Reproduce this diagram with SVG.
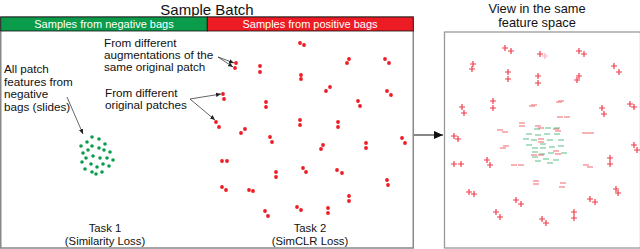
<svg xmlns="http://www.w3.org/2000/svg" xmlns:xlink="http://www.w3.org/1999/xlink" width="640" height="249" viewBox="0 0 640 249">
<style>
text{font-family:"Liberation Sans",Arial,sans-serif;fill:#111}
.hd{fill:#fff;font-size:11px;text-anchor:middle}
.lb{font-size:11.7px}
.tk{font-size:11.3px}
.c{text-anchor:middle}
.rd{fill:#ed1c24}
.gd{fill:#0a9c4b}
.pl{stroke:#ee1c2a;stroke-width:1.2;fill:none;opacity:0.85}
.mr{stroke:#ee3a42;stroke-width:1.3;fill:none;opacity:0.6}
.mg{stroke:#1aa557;stroke-width:1.3;fill:none;opacity:0.55}
.ln{stroke:#222;stroke-width:0.7;fill:none}
</style>
<defs>
<path id="p" d="M-3,0H3M0,-3V3"/>
<path id="m" d="M-3,0H3"/>
<marker id="ah" markerWidth="6" markerHeight="6" refX="5" refY="3" orient="auto" markerUnits="userSpaceOnUse"><path d="M0,0.8L5,3L0,5.2Z" fill="#222"/></marker>
<marker id="ab" markerWidth="10" markerHeight="10" refX="9" refY="5" orient="auto" markerUnits="userSpaceOnUse"><path d="M0,1L9,5L0,9Z" fill="#111"/></marker>
</defs>

<g id="title-batch"><text x="207" y="15" class="c" style="font-size:15px">Sample Batch</text></g>

<g id="batch-box">
<rect x="0.75" y="17" width="412.5" height="231" fill="#fff" stroke="#888" stroke-width="1.5"/>
<rect x="0.75" y="17" width="206.5" height="14" fill="#0a9c4b" stroke="#111" stroke-width="0.8"/>
<rect x="207.25" y="17" width="206" height="14" fill="#ed1c24" stroke="#111" stroke-width="0.8"/>
<text x="104" y="28" class="hd">Samples from negative bags</text>
<text x="310" y="28" class="hd">Samples from positive bags</text>
</g>

<g id="label-augment"><text class="lb" x="104" y="47">From different</text><text class="lb" x="104" y="59">augmentations of the</text><text class="lb" x="104" y="71">same original patch</text></g>
<g id="label-original"><text class="lb" x="105" y="97">From different</text><text class="lb" x="105" y="109">original patches</text></g>
<g id="label-negative"><text class="lb" x="4" y="73">All patch</text><text class="lb" x="4" y="85.5">features from</text><text class="lb" x="4" y="98">negative</text><text class="lb" x="4" y="110.5">bags (slides)</text></g>
<g id="task1"><text class="tk c" x="105" y="232">Task 1</text><text class="tk c" x="105" y="245">(Similarity Loss)</text></g>
<g id="task2"><text class="tk c" x="310" y="232">Task 2</text><text class="tk c" x="310" y="245">(SimCLR Loss)</text></g>

<g id="negative-cluster" class="gd">
<circle cx="92" cy="137" r="1.8"/><circle cx="99" cy="139" r="1.8"/><circle cx="87" cy="142" r="1.8"/><circle cx="105" cy="144" r="1.8"/><circle cx="81" cy="146" r="1.8"/><circle cx="92" cy="146" r="1.8"/><circle cx="99" cy="148" r="1.8"/><circle cx="88" cy="150" r="1.8"/><circle cx="104" cy="150" r="1.8"/><circle cx="110" cy="152" r="1.8"/><circle cx="83" cy="153" r="1.8"/><circle cx="93" cy="156" r="1.8"/><circle cx="86" cy="158" r="1.8"/><circle cx="100" cy="158" r="1.8"/><circle cx="107" cy="158" r="1.8"/><circle cx="113" cy="160" r="1.8"/><circle cx="82" cy="162" r="1.8"/><circle cx="91" cy="164" r="1.8"/><circle cx="103" cy="164" r="1.8"/><circle cx="97" cy="167" r="1.8"/><circle cx="109" cy="166" r="1.8"/><circle cx="85" cy="169" r="1.8"/><circle cx="92" cy="172" r="1.8"/><circle cx="102" cy="172" r="1.8"/><circle cx="96" cy="174" r="1.8"/>
</g>

<g id="positive-pairs" class="rd">
<circle cx="300" cy="43" r="1.9"/><circle cx="304" cy="45" r="1.9"/>
<circle cx="236" cy="63" r="1.9"/><circle cx="235" cy="68" r="1.9"/>
<circle cx="260" cy="66" r="1.9"/><circle cx="260" cy="72" r="1.9"/>
<circle cx="301" cy="75" r="1.9"/><circle cx="301" cy="79" r="1.9"/>
<circle cx="349" cy="59" r="1.9"/><circle cx="347" cy="63" r="1.9"/>
<circle cx="385" cy="59" r="1.9"/><circle cx="389" cy="63" r="1.9"/>
<circle cx="223" cy="94" r="1.9"/><circle cx="224" cy="99" r="1.9"/>
<circle cx="330" cy="87" r="1.9"/><circle cx="326" cy="91" r="1.9"/>
<circle cx="387" cy="91" r="1.9"/><circle cx="391" cy="95" r="1.9"/>
<circle cx="266" cy="102" r="1.9"/><circle cx="266" cy="107" r="1.9"/>
<circle cx="358" cy="101" r="1.9"/><circle cx="360" cy="106" r="1.9"/>
<circle cx="216" cy="122" r="1.9"/><circle cx="219" cy="127" r="1.9"/>
<circle cx="300" cy="120" r="1.9"/><circle cx="300" cy="125" r="1.9"/>
<circle cx="338" cy="122" r="1.9"/><circle cx="338" cy="127" r="1.9"/>
<circle cx="245" cy="129" r="1.9"/><circle cx="241" cy="133" r="1.9"/>
<circle cx="270" cy="137" r="1.9"/><circle cx="272" cy="142" r="1.9"/>
<circle cx="323" cy="145" r="1.9"/><circle cx="321" cy="149" r="1.9"/>
<circle cx="366" cy="143" r="1.9"/><circle cx="366" cy="148" r="1.9"/>
<circle cx="402" cy="138" r="1.9"/><circle cx="405" cy="143" r="1.9"/>
<circle cx="222" cy="161" r="1.9"/><circle cx="227" cy="161" r="1.9"/>
<circle cx="276" cy="172" r="1.9"/><circle cx="276" cy="177" r="1.9"/>
<circle cx="303" cy="168" r="1.9"/><circle cx="306" cy="172" r="1.9"/>
<circle cx="337" cy="170" r="1.9"/><circle cx="342" cy="173" r="1.9"/>
<circle cx="387" cy="180" r="1.9"/><circle cx="388" cy="185" r="1.9"/>
<circle cx="222" cy="187" r="1.9"/><circle cx="226" cy="190" r="1.9"/>
<circle cx="249" cy="190" r="1.9"/><circle cx="253" cy="191" r="1.9"/>
<circle cx="349" cy="196" r="1.9"/><circle cx="349" cy="201" r="1.9"/>
<circle cx="265" cy="211" r="1.9"/><circle cx="268" cy="216" r="1.9"/>
<circle cx="297" cy="207" r="1.9"/><circle cx="301" cy="210" r="1.9"/>
<circle cx="328" cy="208" r="1.9"/><circle cx="328" cy="213" r="1.9"/>
</g>

<g id="title-view"><text x="537" y="13" class="c" style="font-size:12.8px">View in the same</text><text x="537" y="27" class="c" style="font-size:12.8px">feature space</text></g>

<g id="feature-space">
<rect x="444.5" y="32" width="196" height="216" fill="#fff" stroke="#999" stroke-width="1.3"/>
<g class="pl">
<use xlink:href="#p" x="505" y="48"/><use xlink:href="#p" x="511" y="51"/>
<use xlink:href="#p" x="473" y="64"/><use xlink:href="#p" x="472" y="69"/>
<use xlink:href="#p" x="508" y="72"/><use xlink:href="#p" x="508" y="79"/>
<use xlink:href="#p" x="540" y="54"/><use xlink:href="#p" x="545" y="56" opacity="0.4"/>
<use xlink:href="#p" x="538" y="76"/><use xlink:href="#p" x="538" y="83"/>
<use xlink:href="#p" x="493" y="101"/><use xlink:href="#p" x="493" y="108"/>
<use xlink:href="#p" x="462" y="107"/><use xlink:href="#p" x="464" y="113"/>
<use xlink:href="#p" x="454" y="136"/><use xlink:href="#p" x="458" y="139"/>
<use xlink:href="#p" x="579" y="51"/><use xlink:href="#p" x="584" y="54"/>
<use xlink:href="#p" x="614" y="66"/><use xlink:href="#p" x="619" y="72"/>
<use xlink:href="#p" x="579" y="76"/><use xlink:href="#p" x="577" y="80"/>
<use xlink:href="#p" x="602" y="108"/><use xlink:href="#p" x="604" y="114"/>
<use xlink:href="#p" x="630" y="104"/><use xlink:href="#p" x="634" y="107"/>
<use xlink:href="#p" x="454" y="164"/><use xlink:href="#p" x="461" y="164"/>
<use xlink:href="#p" x="487" y="160"/><use xlink:href="#p" x="490" y="165"/>
<use xlink:href="#p" x="469" y="192"/><use xlink:href="#p" x="474" y="194"/>
<use xlink:href="#p" x="516" y="200"/><use xlink:href="#p" x="521" y="204"/>
<use xlink:href="#p" x="496" y="212"/><use xlink:href="#p" x="500" y="217"/>
<use xlink:href="#p" x="634" y="145"/><use xlink:href="#p" x="637" y="150"/>
<use xlink:href="#p" x="610" y="158"/><use xlink:href="#p" x="610" y="164"/>
<use xlink:href="#p" x="616" y="189"/><use xlink:href="#p" x="618" y="193"/>
<use xlink:href="#p" x="590" y="199"/><use xlink:href="#p" x="595" y="202"/>
<use xlink:href="#p" x="574" y="212"/><use xlink:href="#p" x="574" y="218"/>
<use xlink:href="#p" x="542" y="219"/><use xlink:href="#p" x="546" y="223"/>
</g>
<g class="mr">
<use xlink:href="#m" x="534" y="105"/><use xlink:href="#m" x="532" y="106"/>
<use xlink:href="#m" x="500" y="130"/><use xlink:href="#m" x="505" y="132"/>
<use xlink:href="#m" x="522" y="123"/><use xlink:href="#m" x="522" y="126"/>
<use xlink:href="#m" x="561" y="101"/><use xlink:href="#m" x="559" y="102"/>
<use xlink:href="#m" x="560" y="117"/><use xlink:href="#m" x="567" y="117"/>
<use xlink:href="#m" x="585" y="133"/><use xlink:href="#m" x="591" y="133"/>
<use xlink:href="#m" x="506" y="146"/><use xlink:href="#m" x="503" y="148"/>
<use xlink:href="#m" x="514" y="165"/><use xlink:href="#m" x="521" y="165"/>
<use xlink:href="#m" x="536" y="181"/><use xlink:href="#m" x="536" y="184"/>
<use xlink:href="#m" x="586" y="165"/><use xlink:href="#m" x="590" y="167"/>
<use xlink:href="#m" x="563" y="183"/><use xlink:href="#m" x="562" y="187"/>
<use xlink:href="#m" x="538" y="126"/><use xlink:href="#m" x="541" y="128"/>
<use xlink:href="#m" x="556" y="129"/><use xlink:href="#m" x="558" y="131"/>
<use xlink:href="#m" x="541" y="139"/><use xlink:href="#m" x="541" y="142"/>
<use xlink:href="#m" x="556" y="151"/><use xlink:href="#m" x="558" y="154"/>
<use xlink:href="#m" x="534" y="155"/><use xlink:href="#m" x="541" y="155"/>
</g>
<g class="mg">
<use xlink:href="#m" x="548" y="128"/><use xlink:href="#m" x="537" y="129"/><use xlink:href="#m" x="557" y="128"/>
<use xlink:href="#m" x="529" y="134"/><use xlink:href="#m" x="538" y="135"/><use xlink:href="#m" x="547" y="134"/><use xlink:href="#m" x="557" y="134"/>
<use xlink:href="#m" x="526" y="139"/><use xlink:href="#m" x="534" y="140"/><use xlink:href="#m" x="550" y="140"/><use xlink:href="#m" x="561" y="140"/>
<use xlink:href="#m" x="529" y="145"/><use xlink:href="#m" x="543" y="144"/><use xlink:href="#m" x="552" y="147"/><use xlink:href="#m" x="561" y="146"/>
<use xlink:href="#m" x="535" y="148"/><use xlink:href="#m" x="543" y="148"/>
<use xlink:href="#m" x="535" y="152"/><use xlink:href="#m" x="542" y="154"/><use xlink:href="#m" x="551" y="153"/><use xlink:href="#m" x="564" y="153"/>
<use xlink:href="#m" x="535" y="157"/><use xlink:href="#m" x="546" y="159"/><use xlink:href="#m" x="556" y="160"/>
<use xlink:href="#m" x="538" y="161"/><use xlink:href="#m" x="550" y="163"/>
</g>
</g>

<g id="connectors">
<line class="ln" x1="218" y1="57" x2="234" y2="63" marker-end="url(#ah)"/>
<line class="ln" x1="218" y1="57" x2="233" y2="67" marker-end="url(#ah)"/>
<line class="ln" x1="190" y1="99" x2="221" y2="94" marker-end="url(#ah)"/>
<line class="ln" x1="190" y1="99" x2="215" y2="120" marker-end="url(#ah)"/>
<line class="ln" x1="67" y1="97" x2="83" y2="134" marker-end="url(#ah)"/>
<line x1="414" y1="135" x2="443" y2="135" stroke="#111" stroke-width="1" marker-end="url(#ab)"/>
</g>
</svg>
